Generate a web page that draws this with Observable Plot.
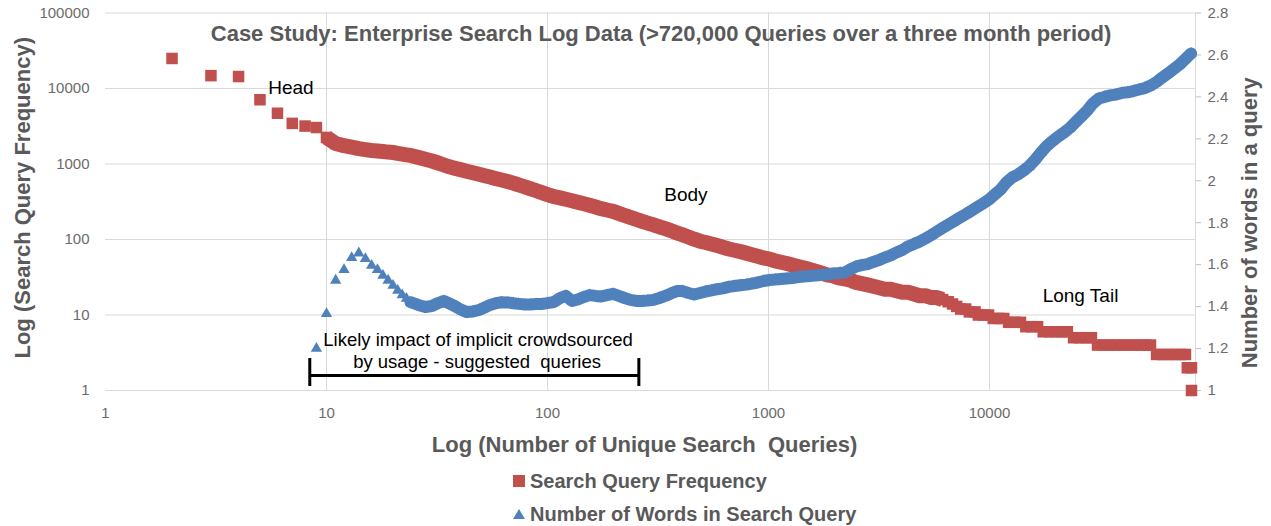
<!DOCTYPE html>
<html>
<head>
<meta charset="utf-8">
<script src="https://cdn.jsdelivr.net/npm/d3@7"></script>
<script src="https://cdn.jsdelivr.net/npm/@observablehq/plot@0.6"></script>
<style>
  html, body { margin: 0; padding: 0; background: #ffffff; }
  #wrap { position: relative; width: 1271px; height: 526px; overflow: hidden; font-family: "Liberation Sans", Arial, sans-serif; }
  .row { position: absolute; left: 513px; height: 20px; display: flex; align-items: center;
         font: bold 20px "Liberation Sans", Arial, sans-serif; color: #595959; line-height: 20px; white-space: nowrap; }
  .sq { width: 12px; height: 12px; background: #c0504d; margin-right: 5px; flex: none; }
  .tri { width: 0; height: 0; border-left: 6px solid transparent; border-right: 6px solid transparent;
         border-bottom: 10px solid #4f81bd; margin-right: 5px; flex: none; }
</style>
</head>
<body>
<div id="wrap"></div>
<script>
// ---- data ----
const xTicks = [1, 10, 100, 1000, 10000];
const yTicks = [1, 10, 100, 1000, 10000, 100000];
const wordTicks = [1, 1.2, 1.4, 1.6, 1.8, 2, 2.2, 2.4, 2.6, 2.8];

// Search Query Frequency (left log axis) by rank
const freqRank = [2,3,4,5,6,7,8,9,10,11,12,13,14,15,16,17,18,19,20,21,22,23,24,
  26,28,30,32,34,36,38,40,
  43,46,49,52,55,58,62,66,70,74,79,84,89,95,
  100,107,114,121,129,137,146,155,165,175,186,198,
  210,223,237,252,268,284,302,321,341,362,385,409,434,461,490,
  520,552,586,622,661,702,746,792,841,893,949,
  1010,1070,1140,1210,1280,1360,1450,1540,1630,1730,1840,1960,
  2080,2210,2340,2490,2640,2810,2980,3170,3360,3570,3790,
  4030,4280,4550,4830,5130,5450,5780,6140,
  6500,6800,7100,7400,7800,8100,8600,8900,9400,9900,
  10400,11000,11600,12200,13000,13800,14600,15500,16500,17500,18700,19900,
  21200,22500,24000,25500,27200,28900,30800,32800,34900,37200,39600,42100,44800,47700,50800,53500,
  57000,60700,64600,68700,73200,77000,78500,82000,82000];
const freqValue = [25000,14800,14400,7100,4700,3450,3180,3040,2250,1870,1750,1675,1600,1550,1510,1486,1465,1438,1420,1386,1352,1324,1297,
  1223,1158,1096,1031,970,918,880,848,
  803,764,730,698,671,644,614,586,558,528,498,468,443,414,
  394,369,356,341,326,311,297,284,269,256,246,236,
  222,208,196,185,174,165,156,147,139,131,122,115,108,101,95,
  91,87,83,79,75,72,69,66,63,60,57,
  55,52,50,48,46,44,42,40,38,36,34,33,
  31,30,29,27,26,25,24,23,22,22,21,
  20,20,19,18,18,17,17,16,
  15,14,13,12,12,11,11,10,10,10,
  9,9,9,8,8,8,7,7,7,6,6,6,
  6,6,5,5,5,5,4,4,4,4,4,4,4,4,4,4,
  3,3,3,3,3,3,2,2,1];

// Number of Words in Search Query (right linear axis) by rank
const wordRank = [9,10,11,12,13,14,15,16,17,18,19,20,21,22,23,24,
  26,28,30,32,34,36,38,40,
  43,46,49,52,55,58,62,66,70,74,79,84,89,95,
  100,107,114,121,129,137,146,155,165,175,186,198,
  210,223,237,252,268,284,302,321,341,362,385,409,434,461,490,
  520,552,586,622,661,702,746,792,841,893,949,
  1010,1070,1140,1210,1280,1360,1450,1540,1630,1730,1840,1960,
  2080,2210,2340,2490,2640,2810,2980,3170,3360,3570,3790,
  4030,4280,4550,4830,5130,5450,5780,6140,
  6530,6930,7360,7820,8300,8820,9370,9950,
  10560,11220,11910,12650,13440,14270,15150,16090,17090,18150,19280,
  20470,21740,23090,24520,26040,27660,29370,
  31190,33130,35180,37360,39680,42140,44750,47530,50470,53600,56930,60460,64200,68180,72410,76900,81670];
const wordValue = [1.2,1.366,1.525,1.576,1.633,1.655,1.628,1.596,1.576,1.548,1.525,1.501,1.477,1.455,1.439,1.421,
  1.408,1.398,1.403,1.417,1.427,1.415,1.403,1.389,
  1.374,1.377,1.384,1.396,1.408,1.415,1.421,1.42,1.416,1.413,1.41,1.41,1.412,1.413,
  1.417,1.422,1.441,1.451,1.427,1.434,1.446,1.455,1.451,1.448,1.455,1.461,
  1.451,1.441,1.432,1.427,1.427,1.429,1.432,1.441,1.451,1.463,1.474,1.474,1.465,1.458,1.465,
  1.472,1.477,1.483,1.487,1.494,1.498,1.502,1.505,1.51,1.515,1.522,
  1.527,1.529,1.532,1.534,1.536,1.541,1.544,1.546,1.548,1.551,1.553,1.558,
  1.56,1.563,1.577,1.591,1.598,1.603,1.613,1.622,1.634,1.644,1.658,
  1.67,1.687,1.699,1.71,1.725,1.741,1.758,1.775,
  1.792,1.808,1.825,1.841,1.858,1.875,1.892,1.911,
  1.935,1.958,1.992,2.016,2.03,2.049,2.071,2.101,2.135,2.166,2.19,
  2.211,2.23,2.252,2.28,2.307,2.335,2.369,
  2.392,2.4,2.407,2.411,2.419,2.422,2.428,2.435,2.442,2.454,2.471,2.492,2.512,2.533,2.554,2.581,2.607];

// text annotations (positions in data units)
const phaseLabels = ["Head", "Body", "Long Tail"];
const phaseRank = [6.9, 423, 25800];
const phaseFreq = [10300, 385, 17.9];
const noteLines = ["Likely impact of implicit crowdsourced", "by usage - suggested  queries"];
const noteRank = [48.5, 48];
const noteFreq = [4.64, 2.40];
const bracketFrom = 8.4, bracketTo = 259, bracketLevel = 1.58, bracketTop = 2.65, bracketBottom = 1.13;

const chartTitle = "Case Study: Enterprise Search Log Data (>720,000 Queries over a three month period)";
const xTitle = "Log (Number of Unique Search  Queries)";
const yTitle = "Log (Search Query Frequency)";
const y2Title = "Number of words in a query";
const seriesNames = ["Search Query Frequency", "Number of Words in Search Query"];

// ---- build ----
const xMax = 85500;
const wordsMin = 1, wordsMax = 2.8;
const toY = (w) => Math.pow(10, (w - wordsMin) / (wordsMax - wordsMin) * 5); // right axis mapped onto the left log scale

if (freqRank.length !== freqValue.length || wordRank.length !== wordValue.length) console.error("length mismatch");

const freqData = freqRank.map((r, i) => ({rank: r, value: freqValue[i]}));
const wordData = wordRank.map((r, i) => ({rank: r, words: wordValue[i]}));
const phaseData = phaseLabels.map((t, i) => ({t, rank: phaseRank[i], f: phaseFreq[i]}));
const noteData = noteLines.map((t, i) => ({t, rank: noteRank[i], f: noteFreq[i]}));
// dense (thousands of overlapping markers) stretches of each series
const freqBody = freqData.filter((d) => d.rank >= 10 && d.rank <= 6140);
const wordBody = wordData.filter((d) => d.rank >= 24);

const grey = "#595959", tickGrey = "#6b6b6b", gridGrey = "#d9d9d9";
const red = "#c0504d", blue = "#4f81bd";

const chart = Plot.plot({
  width: 1271,
  height: 462,
  marginTop: 12.5,
  marginBottom: 72,
  marginLeft: 105,
  marginRight: 76,
  x: {type: "log", domain: [1, xMax]},
  y: {type: "log", domain: [1, 100000]},
  style: {fontFamily: "'Liberation Sans', Arial, sans-serif", fontSize: "15px", color: grey, background: "#ffffff", whiteSpace: "pre", overflow: "visible"},
  marks: [
    Plot.gridY(yTicks, {stroke: gridGrey, strokeOpacity: 1}),
    Plot.gridX(xTicks.slice(1), {stroke: gridGrey, strokeOpacity: 1}),
    Plot.ruleX([xMax], {stroke: gridGrey}),
    Plot.axisX(xTicks, {tickSize: 0, tickPadding: 17, tickFormat: (d) => String(d), label: null, fill: tickGrey, fontSize: 15}),
    Plot.axisY(yTicks, {anchor: "left", tickSize: 0, tickPadding: 16, tickFormat: (d) => String(d), label: null, fill: tickGrey, fontSize: 15}),
    Plot.axisY(wordTicks.map(toY), {anchor: "right", tickSize: 5, stroke: "#bfbfbf", tickFormat: () => "", label: null}),
    Plot.text(wordTicks, {y: (d) => toY(d), text: (d) => String(d), frameAnchor: "right", dx: 12, textAnchor: "start", fill: tickGrey, fontSize: 15}),
    Plot.line(freqBody, {x: "rank", y: "value", stroke: red, strokeWidth: 15, strokeLinecap: "butt"}),
    Plot.dot(freqData, {x: "rank", y: "value", symbol: "square", r: 6.5, fill: red}),
    Plot.line(wordBody, {x: "rank", y: (d) => toY(d.words), stroke: blue, strokeWidth: 12, strokeLinecap: "round"}),
    Plot.dot(wordData, {x: "rank", y: (d) => toY(d.words), symbol: "triangle", r: 4.2, fill: blue}),
    Plot.text(phaseData, {x: "rank", y: "f", text: "t", fontSize: 19, fill: "#000000"}),
    Plot.text(noteData, {x: "rank", y: "f", text: "t", fontSize: 18.5, fill: "#000000"}),
    Plot.ruleY([bracketLevel], {x1: bracketFrom, x2: bracketTo, stroke: "#000000", strokeWidth: 3}),
    Plot.ruleX([bracketFrom, bracketTo], {y1: bracketTop, y2: bracketBottom, stroke: "#000000", strokeWidth: 3}),
    Plot.text([chartTitle], {text: (d) => d, frameAnchor: "top", textAnchor: "middle", lineAnchor: "middle", dx: 10.5, dy: 21, fontSize: 22, fontWeight: "bold", fill: grey}),
    Plot.text([xTitle], {text: (d) => d, frameAnchor: "bottom", textAnchor: "middle", lineAnchor: "middle", dx: -6, dy: 54, fontSize: 22, fontWeight: "bold", fill: grey}),
    Plot.text([yTitle], {text: (d) => d, frameAnchor: "left", textAnchor: "middle", lineAnchor: "middle", dx: -82.5, dy: -4, rotate: -90, fontSize: 22, fontWeight: "bold", fill: grey}),
    Plot.text([y2Title], {text: (d) => d, frameAnchor: "right", textAnchor: "middle", lineAnchor: "middle", dx: 54, dy: 21, rotate: -90, fontSize: 22, fontWeight: "bold", fill: grey})
  ]
});

const wrap = document.getElementById("wrap");
wrap.appendChild(chart);

const legend = document.createElement("div");
legend.innerHTML =
  `<div class="row" style="top:471px"><span class="sq"></span><span>${seriesNames[0]}</span></div>` +
  `<div class="row" style="top:504px"><span class="tri"></span><span>${seriesNames[1]}</span></div>`;
wrap.appendChild(legend);
</script>
</body>
</html>
